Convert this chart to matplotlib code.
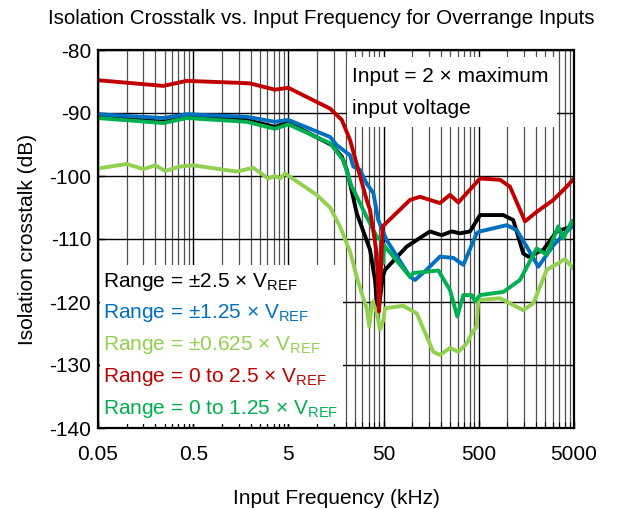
import matplotlib
matplotlib.use("Agg")
import matplotlib.pyplot as plt
from matplotlib.ticker import FixedLocator, NullFormatter, FixedFormatter
from matplotlib.patches import Rectangle

plt.rcParams['font.family'] = ['Liberation Sans', 'DejaVu Sans']
plt.rcParams['mathtext.fontset'] = 'custom'
plt.rcParams['mathtext.rm'] = 'Liberation Sans'
plt.rcParams['axes.unicode_minus'] = False

# ---- data (frequency in kHz, crosstalk in dB) ----
f_black = [0.05, 0.243, 0.427, 1.82, 3.61, 4.99, 14.3, 18.2, 20.5, 22.2, 26.1, 36.0, 40.6, 42.9, 44.7, 48.9,
           51.7, 87.5, 153.5, 203.7, 259, 318, 404, 515, 904, 1151, 1466, 1655, 2382, 3288, 4186, 5000]
db_black = [-90.6, -91.4, -90.7, -91.1, -92.2, -91.5, -95.1, -96.9, -99.0, -101.2, -105.9, -111.7, -116.5, -120.2,
            -120.8, -116.0, -114.9, -111.2, -108.8, -109.4, -108.8, -109.1, -108.8, -106.2, -106.2, -107.0, -112.3,
            -112.8, -111.7, -108.8, -108.3, -107.8]

f_blue = [0.05, 0.243, 0.427, 1.82, 3.61, 4.99, 13.7, 16.1, 22.2, 24.0, 28.2, 33.2, 39.0, 44.0, 53.9, 94.7, 106.9,
          141, 195.5, 270, 344, 475, 515, 982, 1250, 1592, 2108, 3033, 4186, 5000]
db_blue = [-90.2, -90.8, -90.2, -90.6, -91.4, -91.1, -93.8, -95.1, -96.7, -98.5, -99.0, -101.2, -102.7, -107.0,
           -110.2, -116.0, -116.5, -114.9, -112.8, -113.0, -114.1, -109.1, -108.8, -107.8, -108.6, -111.2, -114.4,
           -111.0, -108.8, -107.8]

f_lgreen = [0.05, 0.1, 0.15, 0.2, 0.253, 0.363, 0.5, 1.43, 2.14, 3.07, 3.61, 4.08, 4.6, 6.62, 9.91, 13.7, 17.4,
            22.2, 26.1, 29.4, 33.2, 35.4, 37.5, 39.0, 42.0, 45.8, 49.6, 51.7, 80.5, 111.4, 166.3, 195.5, 249, 305,
            373, 421, 475, 494, 835, 1466, 1870, 2583, 4017, 5000]
db_lgreen = [-98.8, -98.1, -98.9, -98.3, -99.2, -98.5, -98.3, -99.3, -98.7, -100.4, -100.0, -100.4, -99.6, -101.2,
             -103.0, -105.0, -108.0, -112.0, -116.0, -118.6, -121.0, -123.9, -120.5, -119.9, -121.5, -124.4, -122.9,
             -121.0, -120.6, -121.8, -127.9, -128.4, -127.3, -127.9, -126.6, -125.0, -123.9, -119.7, -119.4, -121.3,
             -120.2, -114.9, -113.2, -114.8]

f_red = [0.05, 0.243, 0.427, 1.43, 1.98, 3.61, 4.99, 13.7, 18.2, 22.2, 27.1, 33.2, 36.0, 42.3, 44.7, 46.5, 48.9,
         94.7, 120.6, 195.5, 249, 305, 515, 835, 1064, 1528, 2027, 3033, 4186, 5000]
db_red = [-84.8, -85.7, -84.9, -85.2, -85.3, -86.3, -86.0, -89.3, -91.1, -94.3, -99.0, -103.8, -105.4, -112.2,
          -121.5, -116.0, -108.0, -103.8, -103.3, -104.3, -103.0, -104.2, -100.4, -100.6, -101.7, -107.2, -105.7,
          -103.8, -101.7, -100.4]

f_green = [0.05, 0.243, 0.427, 1.82, 3.61, 4.99, 13.7, 18.9, 23.1, 25.1, 33.2, 42.3, 48.5, 49.6, 50.5, 94.7, 102.6,
           187.8, 249, 297, 344, 421, 456, 515, 904, 1354, 2027, 2583, 3419, 3861, 4728, 5000]
db_green = [-90.8, -91.6, -90.8, -91.4, -92.5, -91.8, -94.8, -97.5, -101.7, -102.7, -106.5, -109.6, -110.5, -113.8,
            -111.0, -116.0, -115.4, -115.0, -118.1, -122.3, -118.9, -118.9, -119.9, -118.9, -118.4, -116.5, -111.5,
            -112.5, -108.0, -109.9, -107.2, -107.0]

legend_labels = ['Range = ±2.5 × V$_{\\mathregular{REF}}$',
                 'Range = ±1.25 × V$_{\\mathregular{REF}}$',
                 'Range = ±0.625 × V$_{\\mathregular{REF}}$',
                 'Range = 0 to 2.5 × V$_{\\mathregular{REF}}$',
                 'Range = 0 to 1.25 × V$_{\\mathregular{REF}}$']
colors = ['#000000', '#0070C0', '#92D050', '#C00000', '#00B050']

x_ticks = [0.05, 0.5, 5, 50, 500, 5000]
x_ticklabels = ['0.05', '0.5', '5', '50', '500', '5000']
y_ticks = [-140, -130, -120, -110, -100, -90, -80]
y_ticklabels = ['-140', '-130', '-120', '-110', '-100', '-90', '-80']

# ---- figure ----
fig = plt.figure(figsize=(6.24, 5.09), dpi=100)
ax = fig.add_axes([98 / 624, 1 - 428 / 509, (574 - 98) / 624, (428 - 50) / 509])
ax.set_xscale('log')
ax.set_xlim(0.05, 5000)
ax.set_ylim(-140, -80)

minor = [0.05 * m * 10 ** d for d in range(5) for m in range(2, 10)]
ax.xaxis.set_major_locator(FixedLocator(x_ticks))
ax.xaxis.set_major_formatter(FixedFormatter(x_ticklabels))
ax.xaxis.set_minor_locator(FixedLocator(minor))
ax.xaxis.set_minor_formatter(NullFormatter())
ax.set_yticks(y_ticks)
ax.set_yticklabels(y_ticklabels)

ax.grid(which='major', axis='both', color='black', linewidth=1.0, zorder=0)
ax.grid(which='minor', axis='x', color='#505050', linewidth=0.9, zorder=0)
ax.tick_params(axis='both', which='major', direction='in', length=5, width=1, labelsize=15)
ax.tick_params(axis='x', which='major', pad=12)
ax.tick_params(axis='y', which='major', pad=5)
ax.tick_params(axis='x', which='minor', direction='in', length=4, width=0.8)
for s in ax.spines.values():
    s.set_linewidth(1.6)
    s.set_zorder(10)

series = [(f_lgreen, db_lgreen, colors[2]), (f_black, db_black, colors[0]), (f_blue, db_blue, colors[1]),
          (f_green, db_green, colors[4]), (f_red, db_red, colors[3])]
for fx, dy, c in series:
    ax.plot(fx, dy, color=c, linewidth=2.8, solid_joinstyle='round', solid_capstyle='round', zorder=5)

# white boxes
ax.add_patch(Rectangle((100 / 624, 1 - 424 / 509), (343 - 100) / 624, (424 - 265) / 509,
                       transform=fig.transFigure, facecolor='white', edgecolor='none', zorder=3))
ax.add_patch(Rectangle((347 / 624, 1 - 127 / 509), (557 - 347) / 624, (127 - 57) / 509,
                       transform=fig.transFigure, facecolor='white', edgecolor='none', zorder=3))

ys = [282, 313, 345, 377, 409]
for lab, c, yy in zip(legend_labels, colors, ys):
    fig.text(103 / 624, 1 - yy / 509, lab, color=c, fontsize=15, va='center', ha='left', zorder=6)

fig.text(352 / 624, 1 - 77 / 509, 'Input = 2 × maximum', fontsize=15, va='center', ha='left')
fig.text(352 / 624, 1 - 108 / 509, 'input voltage', fontsize=15, va='center', ha='left')

fig.text(321 / 624, 1 - 18 / 509, 'Isolation Crosstalk vs. Input Frequency for Overrange Inputs',
         fontsize=14.8, ha='center', va='center')
ax.set_xlabel('Input Frequency (kHz)', fontsize=15, labelpad=18)
ax.set_ylabel('Isolation crosstalk (dB)', fontsize=15, labelpad=9)

fig.savefig('out.png', dpi=100)
